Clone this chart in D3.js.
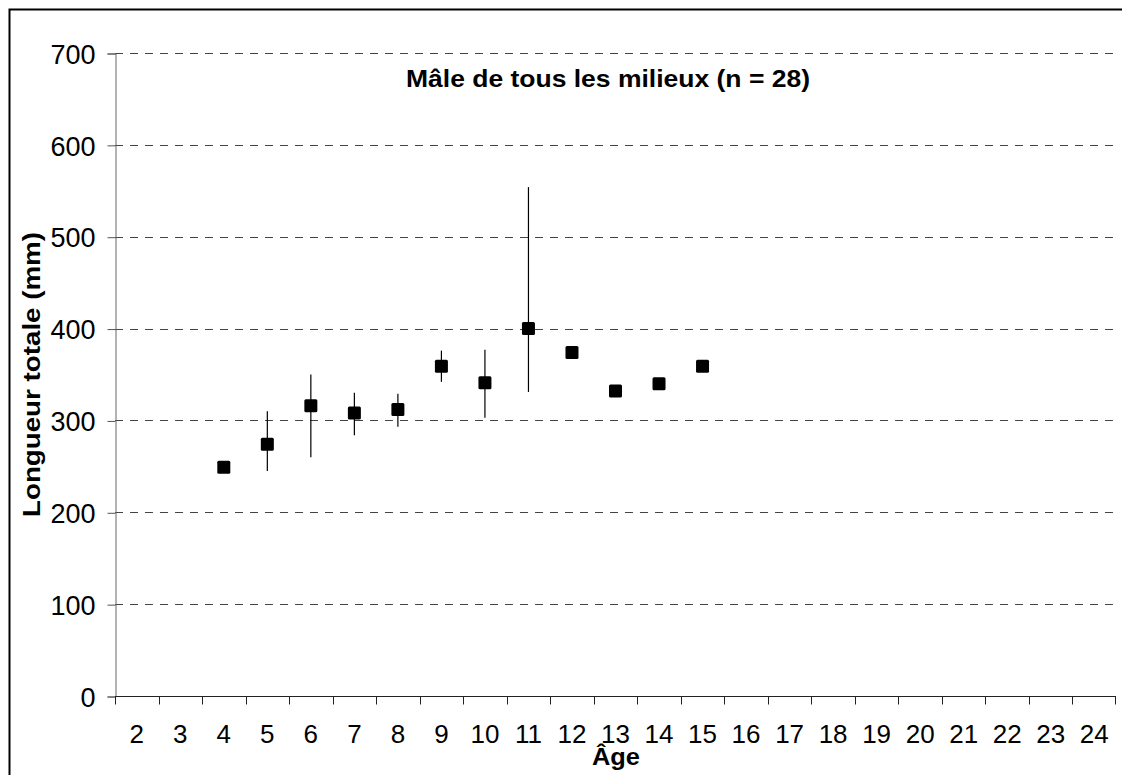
<!DOCTYPE html>
<html>
<head>
<meta charset="utf-8">
<script src="https://cdn.jsdelivr.net/npm/d3@7"></script>
<style>
  body { margin: 0; background: #fff; }
  svg { display: block; font-family: Arial, "Liberation Sans", sans-serif; }
</style>
</head>
<body>
<div id="chart"></div>
<script>
// categories on the x axis (age in years)
var ages = ["2","3","4","5","6","7","8","9","10","11","12","13","14","15","16","17","18","19","20","21","22","23","24"];
// mean total length per age, and the error bar ends (null = no bar)
var pointAges = ["4","5","6","7","8","9","10","11","12","13","14","15"];
var means = [249, 274, 316, 308, 312, 359, 341, 400, 374, 332, 340, 359];
var lows  = [null, 245, 260, 284, 293, 342, 303, 331, null, null, null, null];
var highs = [null, 310, 350, 330, 329, 376, 377, 554, null, null, null, null];
var yTicks = [0, 100, 200, 300, 400, 500, 600, 700];

var W = 1122, H = 775;
var margin = { left: 115, right: 6, top: 53, bottom: 79 };

var svg = d3.select("#chart").append("svg")
	.attr("width", W)
	.attr("height", H);

// outer chart frame (runs off the right and bottom edge)
svg.append("rect")
	.attr("x", 9.5).attr("y", 9.5)
	.attr("width", W + 20).attr("height", H + 20)
	.attr("fill", "none")
	.attr("stroke", "#000")
	.attr("stroke-width", 2);

var x = d3.scaleBand()
	.domain(ages)
	.range([margin.left, W - margin.right]);

var y = d3.scaleLinear()
	.domain([0, 700])
	.range([H - margin.bottom, margin.top]);

var g = svg.append("g");

// dashed gridlines
g.selectAll("line.grid")
	.data(yTicks.filter(function(d) { return d > 0; }))
	.enter()
	.append("line")
	.attr("class", "grid")
	.attr("x1", margin.left).attr("x2", W - margin.right)
	.attr("y1", function(d) { return Math.round(y(d)) + 0.5; })
	.attr("y2", function(d) { return Math.round(y(d)) + 0.5; })
	.attr("stroke", "#444")
	.attr("stroke-dasharray", "8,7");

// y axis
var yAxis = g.append("g")
	.attr("transform", "translate(" + (margin.left + 0.5) + ",0.5)")
	.call(d3.axisLeft(y).tickValues(yTicks).tickSize(8).tickPadding(12));
yAxis.select(".domain").attr("stroke", "#666");
yAxis.selectAll(".tick line").attr("stroke", "#555");
yAxis.selectAll("text")
	.attr("fill", "#000")
	.style("font-size", "27px")
	.attr("dy", "0.36em");

// x axis, ticks between the categories
var xAxis = g.append("g")
	.attr("transform", "translate(0," + (Math.round(y(0)) + 0.5) + ")");
xAxis.append("line")
	.attr("x1", margin.left).attr("x2", W - margin.right)
	.attr("stroke", "#222");
xAxis.selectAll("line.tick")
	.data(ages)
	.enter()
	.append("line")
	.attr("class", "tick")
	.attr("x1", function(d) { return Math.round(x(d)) + 0.5; })
	.attr("x2", function(d) { return Math.round(x(d)) + 0.5; })
	.attr("y1", 0).attr("y2", 8)
	.attr("stroke", "#222");
xAxis.append("line")
	.attr("x1", W - margin.right - 0.5).attr("x2", W - margin.right - 0.5)
	.attr("y1", 0).attr("y2", 8)
	.attr("stroke", "#222");
xAxis.selectAll("text")
	.data(ages)
	.enter()
	.append("text")
	.attr("x", function(d) { return x(d) + x.bandwidth() / 2; })
	.attr("y", 46)
	.attr("text-anchor", "middle")
	.attr("fill", "#000")
	.style("font-size", "26px")
	.text(function(d) { return d; });

var points = pointAges.map(function(a, i) {
	return { age: a, mean: means[i], low: lows[i], high: highs[i] };
});

// error bars
g.selectAll("line.err")
	.data(points.filter(function(d) { return d.low != null; }))
	.enter()
	.append("line")
	.attr("class", "err")
	.attr("x1", function(d) { return x(d.age) + x.bandwidth() / 2; })
	.attr("x2", function(d) { return x(d.age) + x.bandwidth() / 2; })
	.attr("y1", function(d) { return y(d.high); })
	.attr("y2", function(d) { return y(d.low); })
	.attr("stroke", "#000")
	.attr("stroke-width", 1.2);

// square markers
var s = 13;
g.selectAll("rect.pt")
	.data(points)
	.enter()
	.append("rect")
	.attr("class", "pt")
	.attr("x", function(d) { return x(d.age) + x.bandwidth() / 2 - s / 2; })
	.attr("y", function(d) { return y(d.mean) - s / 2; })
	.attr("width", s).attr("height", s)
	.attr("rx", 1.5)
	.attr("fill", "#000");

// titles (glyphs in the original are a bit wider than Arial, so stretch)
svg.append("text")
	.attr("x", 608).attr("y", 87)
	.attr("text-anchor", "middle")
	.attr("textLength", 404)
	.attr("lengthAdjust", "spacingAndGlyphs")
	.style("font-size", "24px")
	.style("font-weight", "bold")
	.text("Mâle de tous les milieux (n = 28)");

svg.append("text")
	.attr("transform", "translate(40,374.5) rotate(-90)")
	.attr("text-anchor", "middle")
	.attr("textLength", 285)
	.attr("lengthAdjust", "spacingAndGlyphs")
	.style("font-size", "24px")
	.style("font-weight", "bold")
	.text("Longueur totale (mm)");

svg.append("text")
	.attr("x", 616).attr("y", 765)
	.attr("text-anchor", "middle")
	.attr("textLength", 48)
	.attr("lengthAdjust", "spacingAndGlyphs")
	.style("font-size", "23px")
	.style("font-weight", "bold")
	.text("Âge");
</script>
</body>
</html>
